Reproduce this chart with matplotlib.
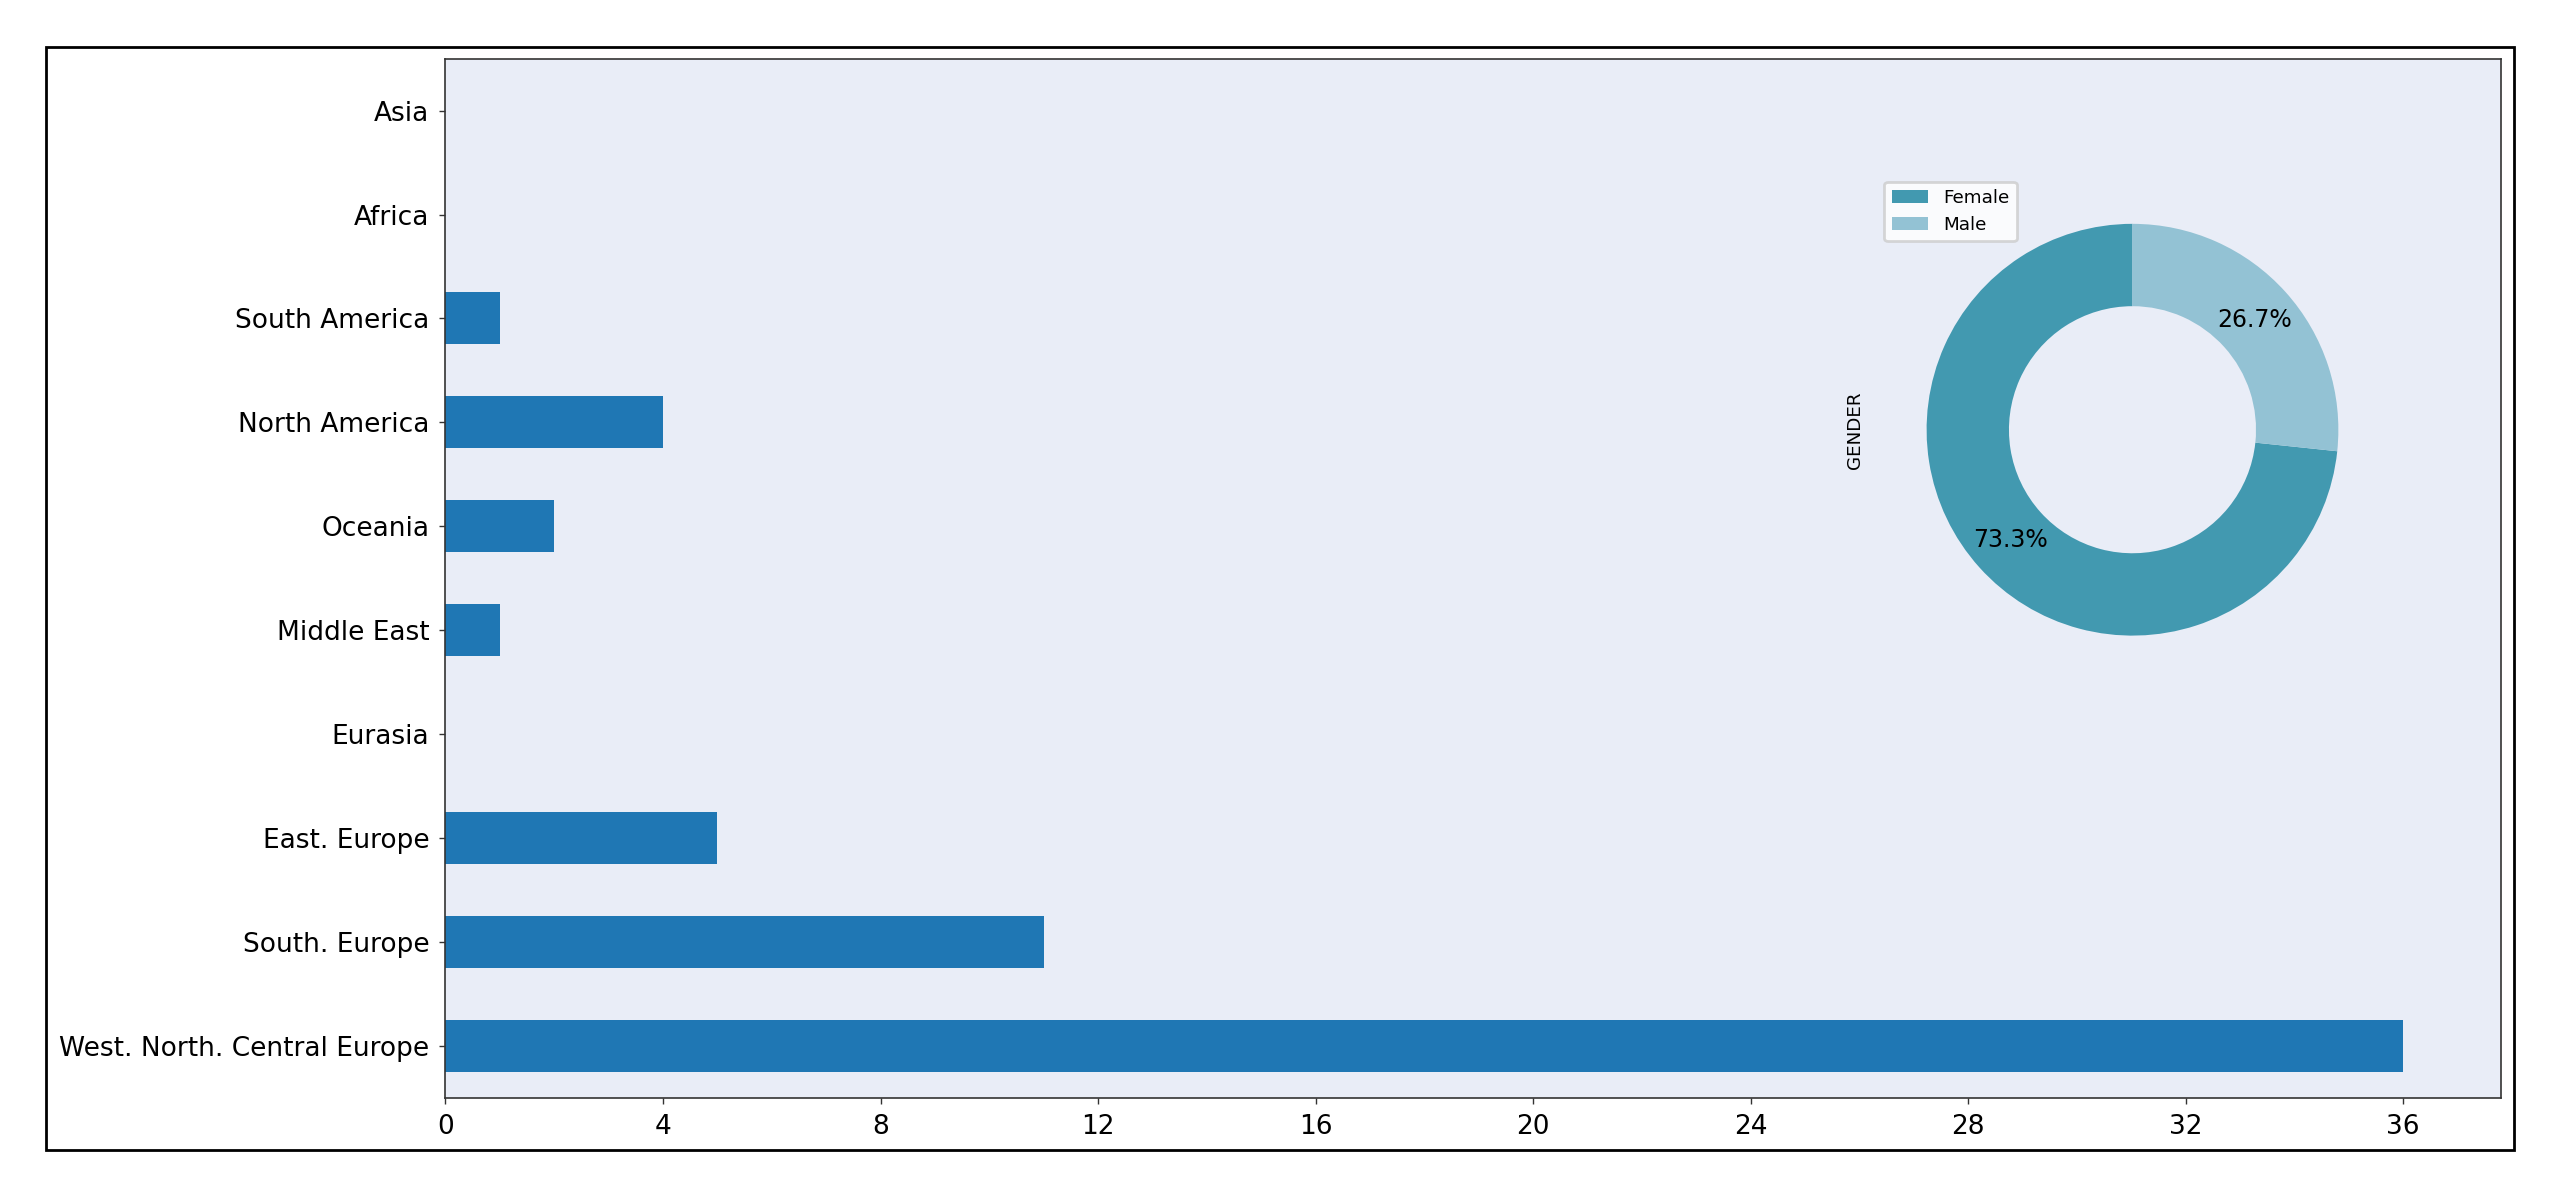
import matplotlib
matplotlib.use("Agg")
import matplotlib.pyplot as plt
from matplotlib.patches import Rectangle
from matplotlib.ticker import MultipleLocator

regions = [
    "West. North. Central Europe",
    "South. Europe",
    "East. Europe",
    "Eurasia",
    "Middle East",
    "Oceania",
    "North America",
    "South America",
    "Africa",
    "Asia",
]
counts = [36, 11, 5, 0, 1, 2, 4, 1, 0, 0]

genders = ["Female", "Male"]
gender_counts = [44, 16]
gender_colors = ["#4299b0", "#93c2d4"]

BG = "#e9edf7"

fig = plt.figure(figsize=(12.8, 5.985), dpi=200)

# frame round the whole figure
fig.patches.append(Rectangle((0.018, 0.039), 0.964, 0.922, transform=fig.transFigure,
                             fill=False, edgecolor="black", linewidth=1.0))

ax = fig.add_axes([0.174, 0.083, 0.803, 0.868])
ax.set_facecolor(BG)
ax.barh(range(len(regions)), counts, height=0.5, color="#1f77b4")
ax.set_yticks(range(len(regions)))
ax.set_yticklabels(regions)
ax.set_ylim(-0.5, len(regions) - 0.5)
ax.set_xlim(0, max(counts) * 1.05)
ax.xaxis.set_major_locator(MultipleLocator(4))
ax.tick_params(labelsize=9.5, length=2.3, width=0.5, colors="#333333", labelcolor="black")
for s in ax.spines.values():
    s.set_linewidth(0.6)
    s.set_color("#333333")

# donut inset
pax = fig.add_axes([0.7324, 0.426, 0.2012, 0.430])
wedges, texts, autotexts = pax.pie(
    gender_counts, colors=gender_colors, startangle=90, autopct="%1.1f%%",
    pctdistance=0.8, wedgeprops=dict(width=0.4), textprops=dict(fontsize=8.5),
)
pax.set_aspect("equal")
pax.set_ylabel("GENDER", fontsize=6.6)
pax.legend(wedges, genders, loc="upper left", fontsize=6.6)

fig.savefig("out.png", dpi=200)
